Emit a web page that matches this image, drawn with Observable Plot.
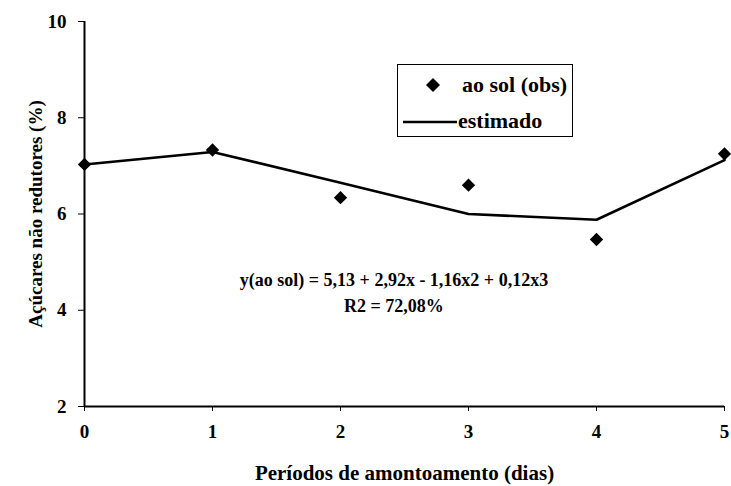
<!DOCTYPE html>
<html>
<head>
<meta charset="utf-8">
<script src="https://cdn.jsdelivr.net/npm/d3@7"></script>
<script src="https://cdn.jsdelivr.net/npm/@observablehq/plot@0.6"></script>
<style>
  html, body { margin: 0; padding: 0; background: #fff; }
  #wrap { position: relative; width: 731px; height: 486px; font-family: "Liberation Serif", serif; font-weight: bold; color: #000; }
  .ov { position: absolute; white-space: nowrap; font-size: 18px; line-height: 22px; }
  #wrap svg g[aria-label$="tick label"] { font-size: 19px; }
</style>
</head>
<body>
<div id="wrap"></div>
<script>
// Data
const dias = [0, 1, 2, 3, 4, 5];
const observado = [7.03, 7.33, 6.34, 6.60, 5.47, 7.25];
const estimado = [7.03, 7.29, 6.65, 6.00, 5.88, 7.12];
const yTicks = [2, 4, 6, 8, 10];
const xTicks = [0, 1, 2, 3, 4, 5];
const serieObs = "ao sol (obs)";
const serieEst = "estimado";
const equacao = "y(ao sol) = 5,13 + 2,92x - 1,16x2 + 0,12x3";
const r2 = "R2 = 72,08%";
const xTitle = "Períodos de amontoamento (dias)";
const yTitle = "Açúcares não redutores (%)";

const obsData = dias.map((d, i) => ({x: d, y: observado[i]}));
const estData = dias.map((d, i) => ({x: d, y: estimado[i]}));

const chart = Plot.plot({
  width: 731,
  height: 486,
  marginTop: 21,
  marginLeft: 84,
  marginRight: 7,
  marginBottom: 80,
  style: {fontFamily: "'Liberation Serif', serif", fontWeight: "bold", fontSize: "19px", color: "#000", background: "#fff"},
  x: {domain: [0, 5], ticks: xTicks, tickFormat: d => String(d)},
  y: {domain: [2, 10], ticks: yTicks, tickFormat: d => String(d)},
  marks: [
    Plot.axisX({ticks: xTicks, tickSize: 5, tickPadding: 13, fontSize: 19, tickFormat: d => String(d), label: null}),
    Plot.axisX({ticks: [], label: xTitle, labelAnchor: "center", labelArrow: "none", labelOffset: 73, fontSize: 21}),
    Plot.axisY({ticks: yTicks, tickSize: 6, tickPadding: 12, fontSize: 19, tickFormat: d => String(d), label: null}),
    Plot.axisY({ticks: [], label: yTitle, labelAnchor: "center", labelArrow: "none", labelOffset: 56, fontSize: 19}),
    Plot.ruleX([0], {stroke: "#000", strokeWidth: 2}),
    Plot.ruleY([2], {stroke: "#000", strokeWidth: 2}),
    Plot.line(estData, {x: "x", y: "y", stroke: "#000", strokeWidth: 2.6}),
    Plot.dot(obsData, {x: "x", y: "y", symbol: "diamond2", r: 6, fill: "#000", stroke: "none"})
  ]
});

const wrap = document.getElementById("wrap");
wrap.appendChild(chart);

// Legend
const legend = document.createElement("div");
legend.style.cssText = "position:absolute;left:397px;top:64px;width:176px;height:73px;border:1px solid #000;background:#fff;box-sizing:border-box;";
legend.innerHTML = `
<svg width="176" height="73" style="position:absolute;left:-1px;top:-1px">
  <path d="M36,14 L43,21 L36,28 L29,21 Z" fill="#000"/>
  <line x1="6" y1="58" x2="60" y2="58" stroke="#000" stroke-width="2.6"/>
  <text x="65" y="28" font-family="Liberation Serif, serif" font-weight="bold" font-size="22">${serieObs}</text>
  <text x="61" y="64" font-family="Liberation Serif, serif" font-weight="bold" font-size="22">${serieEst}</text>
</svg>`;
wrap.appendChild(legend);

// Equation
const eq = document.createElement("div");
eq.className = "ov";
eq.style.cssText += "left:394px;top:269px;transform:translateX(-50%);";
eq.textContent = equacao;
wrap.appendChild(eq);

const rr = document.createElement("div");
rr.className = "ov";
rr.style.cssText += "left:394px;top:295px;transform:translateX(-50%);";
rr.textContent = r2;
wrap.appendChild(rr);
</script>
</body>
</html>
